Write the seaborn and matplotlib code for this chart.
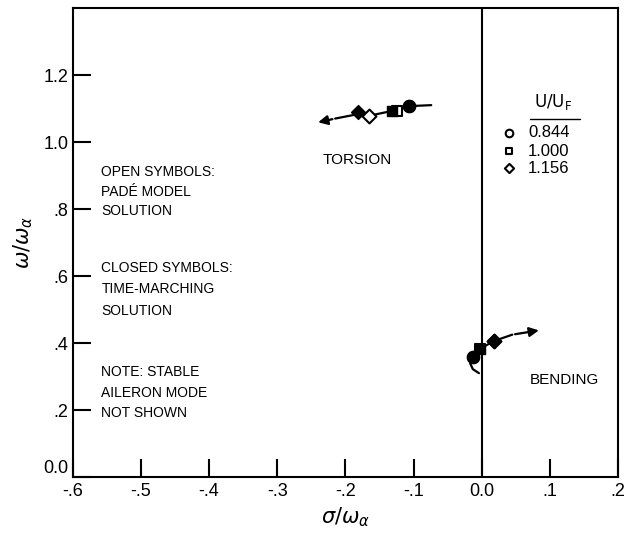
import matplotlib
matplotlib.use("Agg")
import matplotlib.pyplot as plt
import seaborn as sns

sns.set_style("white")
plt.rcParams['font.family'] = ['Liberation Sans', 'DejaVu Sans']
plt.rcParams['mathtext.fontset'] = 'dejavusans'
for k in ['text.color', 'axes.labelcolor', 'xtick.color', 'ytick.color']:
    plt.rcParams[k] = 'black'

# ---- data ----
speed_labels = ["0.844", "1.000", "1.156"]
markers = ["o", "s", "D"]

# closed symbols (time-marching)
tor_closed_x = [-0.107, -0.131, -0.182]
tor_closed_y = [1.107, 1.093, 1.089]
ben_closed_x = [-0.013, -0.003, 0.018]
ben_closed_y = [0.358, 0.382, 0.406]

# open symbols (Pade model)
tor_open_x = [-0.107, -0.124, -0.166]
tor_open_y = [1.107, 1.093, 1.078]
ben_open_x = [-0.013, -0.003, 0.018]
ben_open_y = [0.358, 0.382, 0.406]

# root-locus curves
tor_line_x = [-0.074, -0.107, -0.131, -0.166, -0.182, -0.215]
tor_line_y = [1.110, 1.107, 1.093, 1.078, 1.083, 1.070]
tor_arrow_tip = (-0.244, 1.057)

ben_line_x = [-0.004, -0.013, -0.017, -0.013, -0.003, 0.018, 0.045]
ben_line_y = [0.310, 0.322, 0.340, 0.358, 0.382, 0.406, 0.425]
ben_arrow_tip = (0.088, 0.439)

xticks = [-0.6, -0.5, -0.4, -0.3, -0.2, -0.1, 0.0, 0.1, 0.2]
xtick_labels = ["-.6", "-.5", "-.4", "-.3", "-.2", "-.1", "0.0", ".1", ".2"]
yticks = [0.0, 0.2, 0.4, 0.6, 0.8, 1.0, 1.2]
ytick_labels = ["0.0", ".2", ".4", ".6", ".8", "1.0", "1.2"]

fig = plt.figure(figsize=(6.28, 5.33), dpi=100)
ax = fig.add_axes([0.116, 0.105, 0.868, 0.880])

# curves
sns.lineplot(x=tor_line_x, y=tor_line_y, sort=False, color="black", lw=1.6, ax=ax, estimator=None)
sns.lineplot(x=ben_line_x, y=ben_line_y, sort=False, color="black", lw=1.6, ax=ax, estimator=None)
ax.annotate("", xy=tor_arrow_tip, xytext=(tor_line_x[-1], tor_line_y[-1]),
            arrowprops=dict(arrowstyle="-|>", color="black", lw=1.6, mutation_scale=14))
ax.annotate("", xy=ben_arrow_tip, xytext=(ben_line_x[-1], ben_line_y[-1]),
            arrowprops=dict(arrowstyle="-|>", color="black", lw=1.6, mutation_scale=14))

# vertical line at sigma = 0
ax.axvline(0.0, color="black", lw=1.5)

sizes = [70, 50, 50]
for i, m in enumerate(markers):
    sns.scatterplot(x=[tor_open_x[i], ben_open_x[i]], y=[tor_open_y[i], ben_open_y[i]],
                    marker=m, s=sizes[i], facecolor="white", edgecolor="black", linewidth=1.5,
                    ax=ax, zorder=4)
for i, m in enumerate(markers):
    sns.scatterplot(x=[tor_closed_x[i], ben_closed_x[i]], y=[tor_closed_y[i], ben_closed_y[i]],
                    marker=m, s=sizes[i], color="black", edgecolor="black", linewidth=1.0,
                    ax=ax, zorder=5)

ax.set_xlim(-0.6, 0.2)
ax.set_ylim(0.0, 1.4)
ax.set_xticks(xticks)
ax.set_xticklabels(xtick_labels, fontsize=13)
ax.set_yticks(yticks)
ax.set_yticklabels(ytick_labels, fontsize=13)
ax.get_yticklabels()[0].set_verticalalignment("bottom")
ax.tick_params(direction="in", length=13, width=1.5, pad=3)
ax.tick_params(axis="y", left=True, right=False)
ax.tick_params(axis="x", bottom=True, top=False, pad=4)
for sp in ax.spines.values():
    sp.set_linewidth(1.5)
    sp.set_color("black")

ax.set_xlabel(r"$\sigma/\omega_\alpha$", fontsize=15, labelpad=4)
ax.set_ylabel(r"$\omega/\omega_\alpha$", fontsize=15, labelpad=6)

# annotations
ax.text(-0.182, 0.945, "TORSION", fontsize=11, ha="center", va="center")
ax.text(0.122, 0.29, "BENDING", fontsize=11, ha="center", va="center")
left_text = [
    ("OPEN SYMBOLS:", 0.910), ("PADÉ MODEL", 0.851), ("SOLUTION", 0.794),
    ("CLOSED SYMBOLS:", 0.624), ("TIME-MARCHING", 0.560), ("SOLUTION", 0.497),
    ("NOTE: STABLE", 0.313), ("AILERON MODE", 0.251), ("NOT SHOWN", 0.192),
]
for t, yv in left_text:
    ax.text(-0.558, yv, t, fontsize=10, ha="left", va="center")

# legend
ax.text(0.104, 1.119, r"$\mathrm{U/U_F}$", fontsize=12, ha="center", va="center")
ax.plot([0.071, 0.144], [1.068, 1.068], color="black", lw=1.0)
leg_y = [1.027, 0.973, 0.922]
for i, m in enumerate(markers):
    ax.scatter([0.040], [leg_y[i]], marker=m, s=[30, 22, 22][i], facecolor="white",
               edgecolor="black", linewidth=1.5, zorder=5)
    ax.text(0.068, leg_y[i], speed_labels[i], fontsize=12, ha="left", va="center")

fig.savefig("out.png", dpi=100)
